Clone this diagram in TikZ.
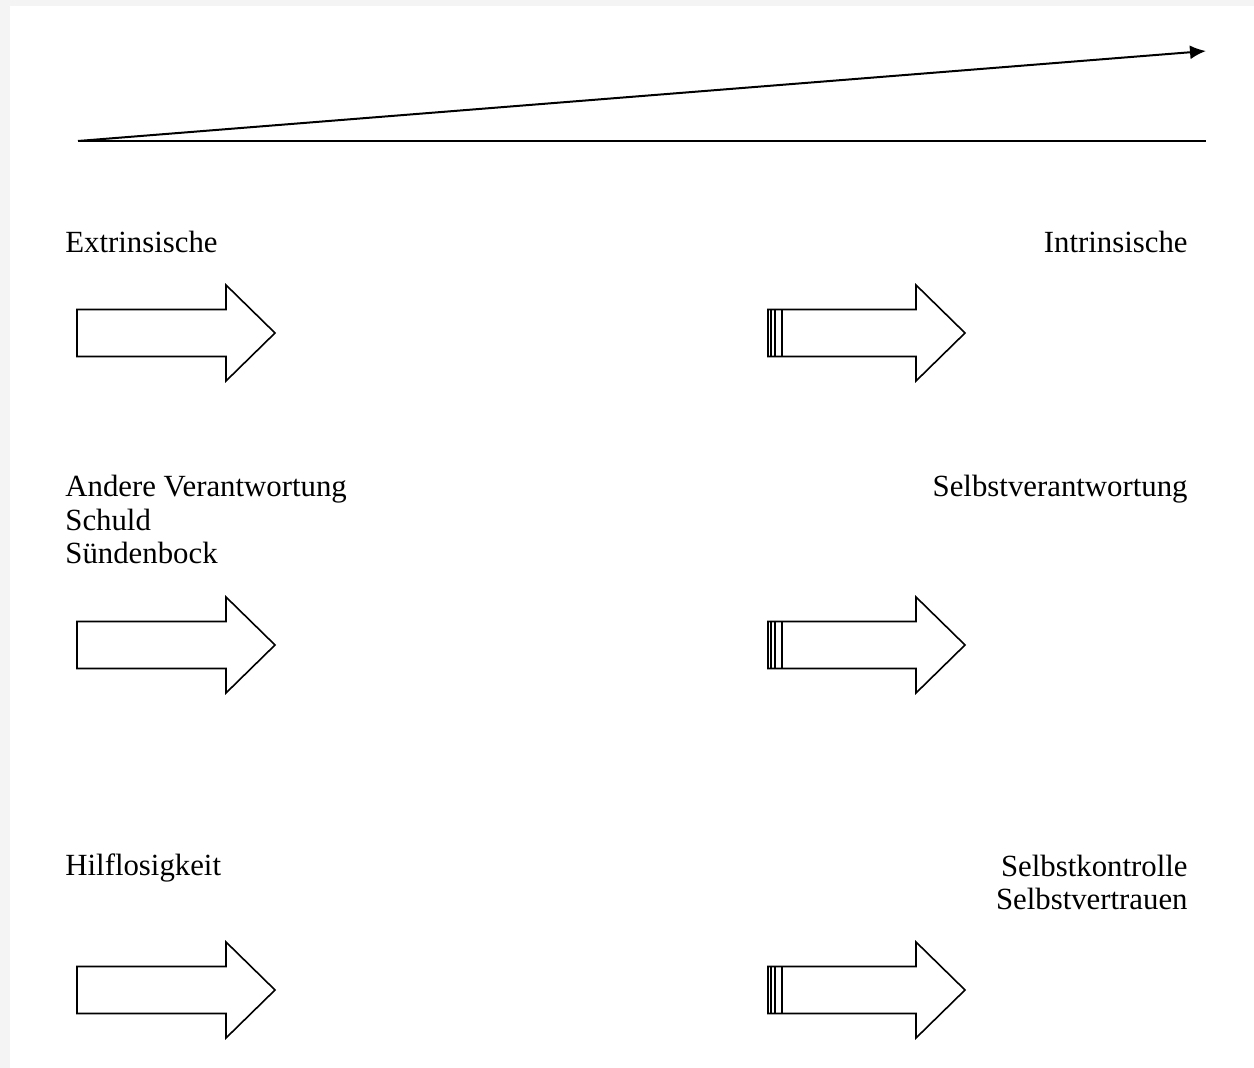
\documentclass[tikz,border=0pt]{standalone}
\usepackage{fontspec}
\setmainfont{Liberation Serif}
\usetikzlibrary{arrows.meta}
\definecolor{pagegray}{HTML}{F4F4F4}
\begin{document}
\begin{tikzpicture}[
  x=0.5pt, y=-0.5pt,
  label/.style={inner sep=0pt, font=\fontsize{15.4}{16.8}\selectfont},
  leftlabel/.style={label, anchor=base west, align=left},
  rightlabel/.style={label, anchor=base east, align=right},
  blockarrow/.style={draw, line width=0.8pt, fill=white, line join=miter},
  trend/.style={line width=1pt}
]

% page
\fill[pagegray] (0,0) rectangle (1254,1068);
\fill[white] (10,6) rectangle (1254,1068);

% top scale
\coordinate (origin) at (78,141);
\coordinate (peak) at (1206,51);
\coordinate (base) at (1206,141);
\draw[trend, -{Latex[length=8pt,width=7pt]}] (origin) -- (peak);
\draw[trend] (origin) -- (base);

% labels (base = last line)
\node[leftlabel] (extr) at (65,253) {Extrinsische};
\node[rightlabel] (intr) at (1188,253) {Intrinsische};
\node[leftlabel] (other) at (65,564) {Andere Verantwortung\\Schuld\\Sündenbock};
\node[rightlabel] (self) at (1188,497) {Selbstverantwortung};
\node[leftlabel] (help) at (65,876) {Hilflosigkeit};
\node[rightlabel] (ctrl) at (1188,910) {Selbstkontrolle\\Selbstvertrauen};

% block arrows
\foreach \yc in {333,645,990} {
  \draw[blockarrow] (77,\yc-23.5) -- (226,\yc-23.5) -- (226,\yc-48) -- (275,\yc)
    -- (226,\yc+48) -- (226,\yc+23.5) -- (77,\yc+23.5) -- cycle;
  \draw[blockarrow] (768,\yc-23.5) -- (916,\yc-23.5) -- (916,\yc-48) -- (965,\yc)
    -- (916,\yc+48) -- (916,\yc+23.5) -- (768,\yc+23.5) -- cycle;
  \foreach \xs in {771,775,782}
    \draw[line width=0.8pt] (\xs,\yc-23.5) -- (\xs,\yc+23.5);
}

\end{tikzpicture}
\end{document}
